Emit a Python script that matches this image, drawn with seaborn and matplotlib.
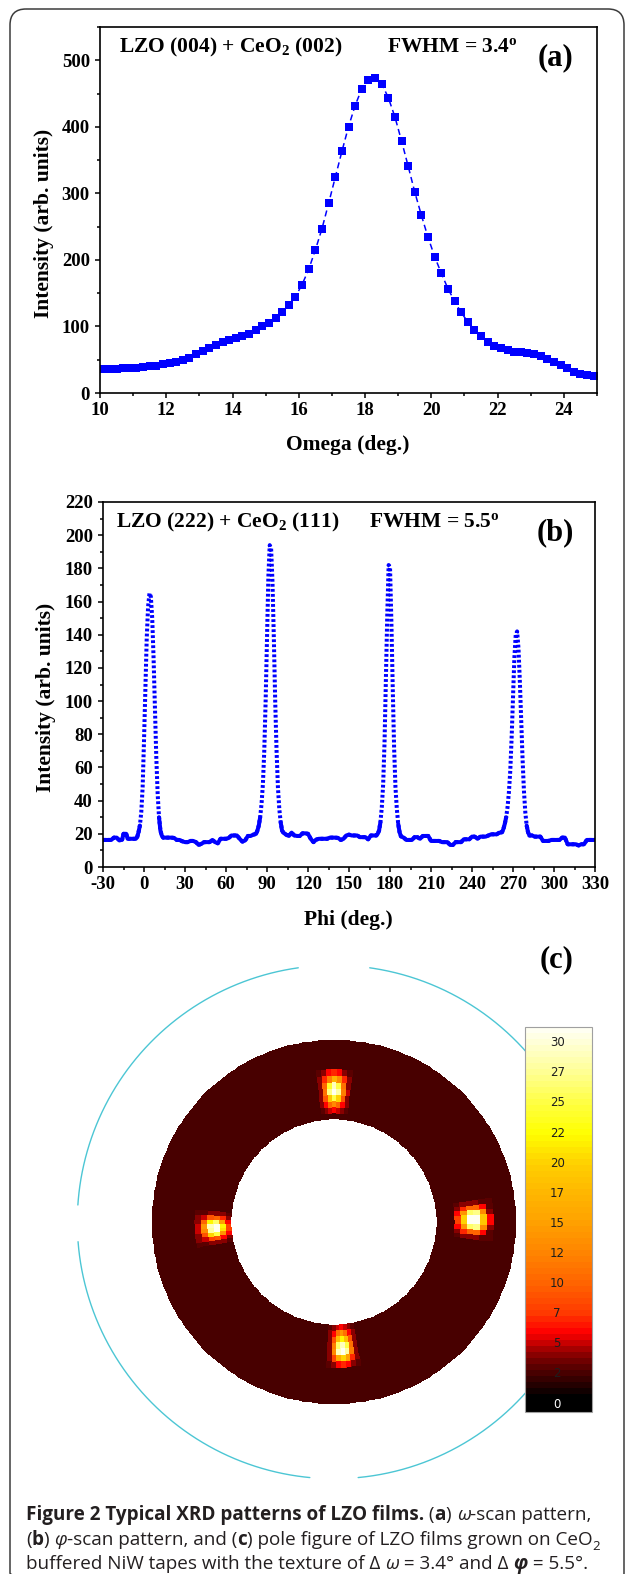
import numpy as np
import pandas as pd
import matplotlib
matplotlib.use("Agg")
import matplotlib.pyplot as plt
import seaborn as sns
from matplotlib.colors import LinearSegmentedColormap, ListedColormap, Normalize
from matplotlib.patches import FancyBboxPatch
from matplotlib.ticker import MultipleLocator
from matplotlib.font_manager import FontProperties

W, H = 627, 1574
BLUE = "#0000ff"
CYAN = "#4cc6d4"

# ---------------- (a) omega scan ----------------
omega = [10.1, 10.3, 10.5, 10.7, 10.9, 11.1, 11.3, 11.5, 11.7, 11.9,
         12.1, 12.3, 12.5, 12.7, 12.9, 13.1, 13.3, 13.5, 13.7, 13.9,
         14.1, 14.3, 14.5, 14.7, 14.9, 15.1, 15.3, 15.5, 15.7, 15.9,
         16.1, 16.3, 16.5, 16.7, 16.9, 17.1, 17.3, 17.5, 17.7, 17.9,
         18.1, 18.3, 18.5, 18.7, 18.9, 19.1, 19.3, 19.5, 19.7, 19.9,
         20.1, 20.3, 20.5, 20.7, 20.9, 21.1, 21.3, 21.5, 21.7, 21.9,
         22.1, 22.3, 22.5, 22.7, 22.9, 23.1, 23.3, 23.5, 23.7, 23.9,
         24.1, 24.3, 24.5, 24.7, 24.9]
omega_int = [36, 36, 36.5, 37, 37.5, 38, 39, 40, 41, 43,
             45, 47, 49, 53, 58, 63, 68, 72, 76, 79,
             82, 85, 88, 94, 100, 105, 113, 121, 132, 145,
             163, 186, 215, 247, 285, 324, 363, 400, 432, 457,
             471, 474, 465, 444, 415, 379, 341, 302, 267, 234,
             205, 180, 157, 138, 121, 107, 95, 85, 77, 71,
             67, 64, 62, 61, 60, 58, 55, 51, 47, 42,
             37, 32, 29, 27, 26]

# ---------------- (b) phi scan ----------------
phi = [-30, -27, -24, -22, -20, -18, -16, -15, -13, -12, -10, -8, -6, -5,
       -4, -3, -2, -1, 0, 1, 2, 3, 4, 5, 6, 7, 8, 9, 10, 11, 12, 13,
       14, 16, 18, 20, 22, 24, 26, 28, 30, 32, 34, 36, 38, 40, 42, 44, 46, 48,
       50, 52, 54, 56, 58, 60, 62, 64, 66, 68, 70, 72, 74, 76, 78, 80, 81,
       82, 83, 84, 85, 86, 87, 88, 89, 90, 91, 92, 93, 94, 95, 96, 97, 98, 99, 100, 101, 102,
       104, 106, 108, 110, 112, 114, 116, 118, 120, 122, 124, 126, 128, 130, 132, 134, 136,
       138, 140, 142, 144, 146, 148, 150, 152, 154, 156, 158, 160, 162, 164, 166, 168, 170,
       171, 172, 173, 174, 175, 176, 177, 178, 179, 180, 181, 182, 183, 184, 185, 186, 187, 188,
       190, 192, 194, 196, 198, 200, 202, 204, 206, 208, 210, 212, 214, 216, 218, 220, 222,
       224, 226, 228, 230, 232, 234, 236, 238, 240, 242, 244, 246, 248, 250, 252, 254, 256,
       258, 260, 261,
       262, 263, 264, 265, 266, 267, 268, 269, 270, 271, 272, 273, 274, 275, 276, 277, 278,
       279, 280, 281, 282,
       284, 286, 288, 290, 292, 294, 296, 298, 300, 302, 304, 306, 308, 310, 312, 314, 316,
       318, 320, 322, 324, 326, 328, 330]
phi_int = [16.3, 16.3, 16.3, 17.7, 17.7, 16.0, 16.5, 20.0, 20.0, 17.0, 17.0, 17.0, 17.0, 18.0,
           21, 25, 33, 48, 76, 108, 138, 157, 165, 163, 150, 126, 95, 66, 44, 30, 22, 19,
           17.7, 17.7, 17.7, 17.7, 17.5, 16.3, 16.3, 15.5, 15.0, 15.0, 15.7, 15.7, 15.0, 13.3,
           14.0, 15.0, 15.0, 15.0,
           16.3, 15.0, 14.3, 17.0, 17.0, 17.0, 17.5, 19.0, 19.0, 19.0, 17.0, 15.3, 16.0, 18.7,
           18.7, 19.5, 19.7,
           20, 22, 25, 30, 38, 50, 70, 100, 138, 175, 194, 192, 172, 138, 100, 70, 48, 35, 27,
           22, 20.7,
           19.5, 18.7, 20.7, 19.0, 18.7, 18.7, 20.3, 20.3, 20.0, 17.0, 15.0, 16.5, 17.0, 17.0,
           17.0, 17.0, 17.7,
           17.7, 17.7, 17.5, 16.3, 17.0, 19.0, 19.5, 19.0, 19.0, 19.0, 18.0, 18.0, 18.0, 16.7,
           19.0, 19.0, 19.0,
           20, 22, 27, 36, 50, 75, 112, 152, 182, 181, 148, 108, 72, 48, 35, 26, 21, 18.5,
           17.7, 16.3, 16.3, 16.3, 18.0, 18.0, 17.0, 18.7, 18.7, 18.7, 15.7, 15.7, 15.7, 15.7,
           15.0, 15.0, 15.0,
           13.3, 13.3, 15.0, 15.0, 15.0, 16.7, 16.7, 16.7, 18.3, 18.3, 17.0, 18.3, 18.3, 18.3,
           19.0, 19.7, 19.7,
           19.7, 20.7, 20.7,
           21, 23, 26, 30, 36, 45, 58, 78, 102, 126, 140, 142, 132, 112, 88, 65, 46,
           33, 25, 21, 19,
           19.0, 18.3, 18.3, 18.3, 15.7, 15.7, 15.7, 16.3, 16.3, 16.3, 16.3, 17.7, 17.7, 13.7,
           13.7, 13.7, 13.7,
           13.0, 13.7, 13.7, 16.3, 16.3, 16.3, 16.3]

# ---------------- (c) pole figure ----------------
pole_background = 2.7
# each spot: first chi ring, first phi sector (2 deg sectors), intensity patch (rows inner -> outer ring)
spot_top = (1, 42, [[3, 4, 5, 6, 5, 4, 3],
                    [4, 6, 10, 13, 10, 6, 4],
                    [4, 9, 20, 25, 19, 9, 4],
                    [5, 12, 28, 31, 27, 11, 4],
                    [4, 11, 25, 29, 24, 10, 4],
                    [4, 7, 13, 17, 12, 7, 4],
                    [3, 4, 6, 7, 6, 4, 3]])
spot_left = (0, 88, [[3, 4, 6, 8, 8, 6, 4, 3],
                     [4, 7, 15, 22, 21, 14, 6, 4],
                     [4, 10, 26, 31, 31, 25, 9, 4],
                     [4, 9, 22, 29, 28, 20, 8, 4],
                     [3, 5, 10, 14, 13, 9, 5, 3],
                     [3, 4, 4, 5, 5, 4, 4, 3]])
spot_right = (3, -3, [[3, 4, 6, 8, 8, 6, 4, 3],
                      [4, 7, 14, 20, 20, 14, 7, 4],
                      [4, 10, 26, 31, 31, 26, 10, 4],
                      [4, 10, 27, 31, 31, 27, 10, 4],
                      [3, 6, 13, 19, 19, 13, 6, 3],
                      [3, 3, 4, 6, 6, 4, 3, 3]])
spot_bottom = (0, 134, [[3, 4, 5, 6, 5, 4, 3],
                        [4, 6, 11, 14, 11, 6, 4],
                        [4, 9, 18, 22, 18, 9, 4],
                        [4, 12, 26, 29, 25, 11, 4],
                        [4, 13, 29, 31, 28, 12, 4],
                        [4, 8, 16, 20, 15, 7, 4],
                        [3, 4, 6, 7, 6, 4, 3]])
spots = [spot_top, spot_left, spot_right, spot_bottom]

cbar_ticks = [0, 2.5, 5, 7.5, 10, 12.5, 15, 17.5, 20, 22.5, 25, 27.5, 30]
cbar_labels = ["0", "2", "5", "7", "10", "12", "15", "17", "20", "22", "25", "27", "30"]

# colours of the pole-figure scale
cmap_v = [-0.66, 0.5, 1.0, 2.0, 2.8, 3.6, 4.4, 5.2, 5.8, 6.6, 7.6, 10.0, 12.5, 15.0,
          17.5, 20.0, 21.5, 22.5, 25.0, 27.5, 30.0, 31.3]
cmap_c = ["#000000", "#000000", "#180000", "#3c0000", "#580000", "#7a0000", "#a80000",
          "#e00000", "#ff0000", "#ff1e00", "#ff3c00", "#ff6400", "#ff8400", "#ffa000",
          "#ffb600", "#ffd000", "#ffec00", "#ffff00", "#ffff3c", "#ffff8c", "#ffffd0", "#fffff2"]
VMIN, VMAX = -0.66, 31.3

sns.set_style("ticks")
plt.rcParams.update({
    "font.family": ["Liberation Serif", "DejaVu Sans"],
    "font.weight": "bold",
    "axes.labelweight": "bold",
    "axes.unicode_minus": False,
    "mathtext.fontset": "custom",
    "mathtext.rm": "Liberation Serif:bold",
    "mathtext.bf": "Liberation Serif:bold",
    "mathtext.it": "Liberation Serif:italic:bold",
    "axes.edgecolor": "black",
    "axes.linewidth": 1.2,
    "text.color": "black",
    "axes.labelcolor": "black",
    "xtick.color": "black",
    "ytick.color": "black",
    "xtick.major.size": 3.8, "ytick.major.size": 3.8,
    "xtick.minor.size": 2.2, "ytick.minor.size": 2.2,
    "xtick.major.width": 1.1, "ytick.major.width": 1.1,
    "xtick.minor.width": 1.1, "ytick.minor.width": 1.1,
    "xtick.labelsize": 13.5, "ytick.labelsize": 13.5,
})

fig = plt.figure(figsize=(W / 100, H / 100), dpi=100)
fig.patch.set_facecolor("white")


def px_axes(x0, y0, x1, y1, **kw):
    return fig.add_axes([x0 / W, 1 - y1 / H, (x1 - x0) / W, (y1 - y0) / H], **kw)


def style_xrd(ax):
    for s in ax.spines.values():
        s.set_visible(True)
        s.set_linewidth(1.2)
        s.set_color("black")
    ax.tick_params(which="both", direction="out", top=False, right=False)
    ax.tick_params(axis="x", which="both", pad=3.0)
    ax.tick_params(axis="y", which="both", pad=3.5)
    ax.grid(False)


# ---- panel (a)
ax_a = px_axes(100, 27, 597, 393)
sns.lineplot(x=omega, y=omega_int, ax=ax_a, color=BLUE, marker="s", markersize=5.2,
             markeredgewidth=0, linestyle=(0, (4, 2.5)), linewidth=1.1)
ax_a.set_xlim(10, 25)
ax_a.set_ylim(0, 550)
ax_a.xaxis.set_major_locator(MultipleLocator(2))
ax_a.xaxis.set_minor_locator(MultipleLocator(1))
ax_a.yaxis.set_major_locator(MultipleLocator(100))
ax_a.yaxis.set_minor_locator(MultipleLocator(50))
ax_a.set_yticks([0, 100, 200, 300, 400, 500])
style_xrd(ax_a)
ax_a.set_xlabel("Omega (deg.)", fontsize=15.5, va="center")
ax_a.xaxis.set_label_coords(0.499, -0.142)
ax_a.set_ylabel("Intensity (arb. units)", fontsize=15.5, va="center")
ax_a.yaxis.set_label_coords(-0.113, 0.464)
ax_a.text(0.038, 0.945, r"LZO (004) + CeO$_\mathbf{2}$ (002)", transform=ax_a.transAxes,
          fontsize=15.5, va="center", ha="left")
ax_a.text(0.577, 0.945, r"FWHM = 3.4$^\mathrm{o}$", transform=ax_a.transAxes,
          fontsize=15.5, va="center", ha="left")
ax_a.text(0.881, 0.915, "(a)", transform=ax_a.transAxes, fontsize=22, va="center", ha="left")

# ---- panel (b)
ax_b = px_axes(103, 502, 595, 867)
df_b = pd.DataFrame({"phi": phi, "intensity": phi_int})
sns.lineplot(data=df_b, x="phi", y="intensity", ax=ax_b, color=BLUE, estimator=None,
             linewidth=2.9, linestyle=(0, (0.7, 0.55)))
base = df_b[df_b["intensity"] <= 30].copy()
base["seg"] = (base.index.to_series().diff() != 1).cumsum()
sns.lineplot(data=base, x="phi", y="intensity", units="seg", estimator=None, ax=ax_b,
             color=BLUE, linewidth=2.9)
ax_b.set_xlim(-30, 330)
ax_b.set_ylim(0, 220)
ax_b.xaxis.set_major_locator(MultipleLocator(30))
ax_b.xaxis.set_minor_locator(MultipleLocator(15))
ax_b.yaxis.set_major_locator(MultipleLocator(20))
ax_b.yaxis.set_minor_locator(MultipleLocator(10))
style_xrd(ax_b)
ax_b.set_xlabel("Phi (deg.)", fontsize=15.5, va="center")
ax_b.xaxis.set_label_coords(0.498, -0.145)
ax_b.set_ylabel("Intensity (arb. units)", fontsize=15.5, va="center")
ax_b.yaxis.set_label_coords(-0.116, 0.466)
ax_b.text(0.026, 0.945, r"LZO (222) + CeO$_\mathbf{2}$ (111)", transform=ax_b.transAxes,
          fontsize=15.5, va="center", ha="left")
ax_b.text(0.54, 0.945, r"FWHM = 5.5$^\mathrm{o}$", transform=ax_b.transAxes,
          fontsize=15.5, va="center", ha="left")
ax_b.text(0.882, 0.915, "(b)", transform=ax_b.transAxes, fontsize=22, va="center", ha="left")

# ---- panel (c): pole figure in stereographic projection
cx, cy, R = 334, 1222, 256.7
ax_c = px_axes(cx - 270, cy - 270, cx + 270, cy + 270)
lim = 270 / R
ax_c.set_xlim(-lim, lim)
ax_c.set_ylim(-lim, lim)
ax_c.axis("off")

chi_edges = np.linspace(43.6, 70.6, 13)
phi_edges = np.arange(-1, 360, 2)
grid = np.full((len(chi_edges) - 1, len(phi_edges) - 1), pole_background)
for ring0, sec0, patch in spots:
    patch = np.array(patch, dtype=float)
    cols = (sec0 + np.arange(patch.shape[1])) % grid.shape[1]
    grid[ring0:ring0 + patch.shape[0], cols] = patch

rr = np.tan(np.radians(chi_edges) / 2)[:, None]
pp = np.radians(phi_edges)[None, :]
X = rr * np.cos(pp)
Y = rr * np.sin(pp)

nodes = [(v - VMIN) / (VMAX - VMIN) for v in cmap_v]
smooth = LinearSegmentedColormap.from_list("pole", list(zip(nodes, cmap_c)))
cmap = ListedColormap(smooth(np.linspace(0, 1, 64)))
norm = Normalize(VMIN, VMAX)
mesh = ax_c.pcolormesh(X, Y, grid, cmap=cmap, norm=norm, shading="flat")

# outer reference circle (chi = 90) with its gaps
for a0, a1 in [(98, 176.2), (184.4, 264.6), (275.4, 442)]:
    t = np.radians(np.linspace(a0, a1, 200))
    ax_c.plot(np.cos(t), np.sin(t), color=CYAN, linewidth=1.0)

cax = px_axes(525, 1027, 592, 1412)
cb = fig.colorbar(mesh, cax=cax)
cb.set_ticks([])
cb.outline.set_edgecolor("#a0a0a0")
cb.outline.set_linewidth(0.8)
for v, lab in zip(cbar_ticks, cbar_labels):
    cax.text(0.48, v, lab, ha="center", va="center", fontsize=8.5, fontweight="normal",
             family="DejaVu Sans", color="white" if v == 0 else "#1e1e1e")

fig.text(557 / W, 1 - 960 / H, "(c)", fontsize=22, ha="center", va="center")

# ---- caption
caption = [
    [("Figure 2 Typical XRD patterns of LZO films.", "bold", "normal", False),
     (" (", "normal", "normal", False), ("a", "bold", "normal", False),
     (") ", "normal", "normal", False), ("\u03c9", "normal", "italic", False),
     ("-scan pattern,", "normal", "normal", False)],
    [("(", "normal", "normal", False), ("b", "bold", "normal", False),
     (") ", "normal", "normal", False), ("\u03c6", "normal", "italic", False),
     ("-scan pattern, and (", "normal", "normal", False), ("c", "bold", "normal", False),
     (") pole figure of LZO films grown on CeO", "normal", "normal", False),
     ("2", "normal", "normal", True)],
    [("buffered NiW tapes with the texture of \u0394 ", "normal", "normal", False),
     ("\u03c9", "normal", "italic", False),
     (" = 3.4\u00b0 and \u0394 ", "normal", "normal", False),
     ("\u03c6", "bold", "italic", False), (" = 5.5\u00b0.", "normal", "normal", False)],
]
renderer = fig.canvas.get_renderer()


def seg_prop(weight, style, sub, size):
    return FontProperties(family=["Open Sans", "DejaVu Sans"], weight=weight, style=style,
                          size=size * (0.7 if sub else 1.0))


def seg_width(text, prop):
    full = renderer.get_text_width_height_descent("|" + text + "|", prop, ismath=False)[0]
    bars = renderer.get_text_width_height_descent("||", prop, ismath=False)[0]
    return full - bars


def line_width(segs, size):
    return sum(seg_width(t, seg_prop(w, s, sb, size)) for t, w, s, sb in segs)


cap_size = 12 * 565 / line_width(caption[0], 12)
for segs, yb in zip(caption, [1520, 1545, 1569]):
    x = 26.0
    for t, w, s, sb in segs:
        prop = seg_prop(w, s, sb, cap_size)
        ys = yb + (0.28 * cap_size * 1.389 if sb else 0)
        fig.text(x / W, 1 - ys / H, t, fontproperties=prop, va="baseline", ha="left",
                 color="#231f20")
        x += seg_width(t, prop)

# ---- rounded frame around the whole figure
ax_f = fig.add_axes([0, 0, 1, 1], zorder=10)
ax_f.patch.set_alpha(0)
ax_f.set_xlim(0, W)
ax_f.set_ylim(H, 0)
ax_f.axis("off")
ax_f.add_patch(FancyBboxPatch((10, 9), 614, 1580, boxstyle="round,pad=0,rounding_size=16",
                              fill=False, edgecolor="#3c3c3c", linewidth=1.1))

fig.savefig("out.png", dpi=100, facecolor="white")
